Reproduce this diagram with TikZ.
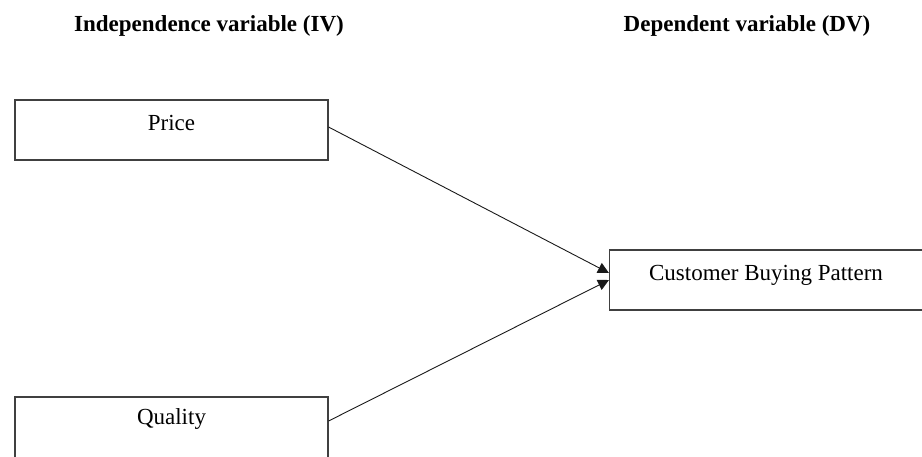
\documentclass[tikz,border=0pt]{standalone}
\usepackage{fontspec}
\setmainfont{Liberation Serif}
\usetikzlibrary{arrows.meta,calc}
\begin{document}
\begin{tikzpicture}[x=1pt,y=-1pt,
  box/.style={draw=black!75, line width=1.1pt, rectangle, inner sep=0pt,
    minimum width=313pt, minimum height=60pt,
    font=\fontsize{23}{27}\selectfont, text height=6pt, text depth=6pt},
  head/.style={font=\bfseries\fontsize{23}{27}\selectfont, inner sep=0pt, anchor=base},
  conn/.style={draw=black!90, line width=0.9pt, -{Triangle[length=11pt,width=11pt]}}
]
\useasboundingbox (0,0) rectangle (922,456);
\node[head] (iv) at (209,31) {Independence variable (IV)};
\node[head] (dv) at (747,31) {Dependent variable (DV)};
\node[box] (price) at (171.5,130) {Price};
\node[box, minimum width=313pt] (cbp) at (766,280) {Customer Buying Pattern};
\node[box, minimum height=62pt, text height=2pt, text depth=10pt] (quality) at (171.5,428) {Quality};
\draw[conn] ($(price.east)+(0,-3)$) -- ($(cbp.west)+(0,-7)$);
\draw[conn] ($(quality.east)+(0,-7)$) -- ($(cbp.west)+(0,0)$);
\end{tikzpicture}
\end{document}
